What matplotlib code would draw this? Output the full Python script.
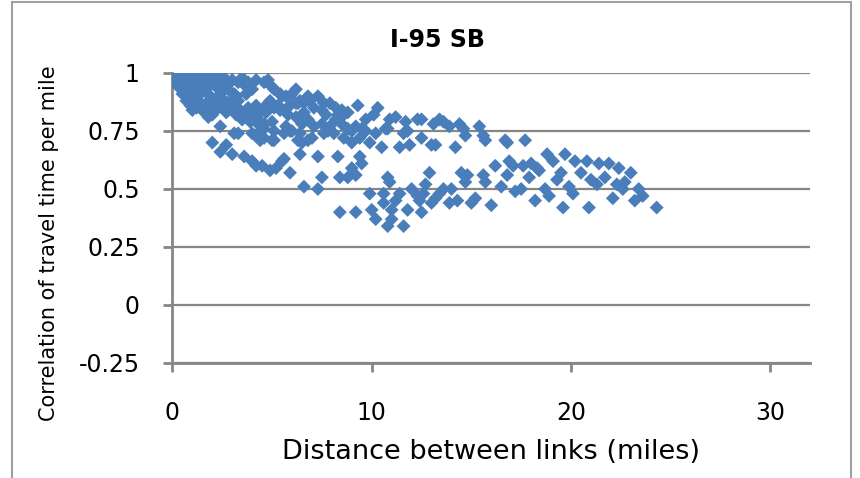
import matplotlib
matplotlib.use("Agg")
import matplotlib.pyplot as plt
from matplotlib.patches import Rectangle

# I-95 SB: correlation of travel time per mile vs distance between links
# values (approximate)

# dense group near the start
dist_start = [0.15, 0.2, 0.3, 0.35, 0.4, 0.5, 0.55, 0.6, 0.7, 0.75, 0.8, 0.9, 1.0, 1.0, 1.1,
              1.2, 1.2, 1.3, 1.4, 1.4, 1.5, 1.6, 1.7, 1.8, 1.9, 2.0, 2.1, 2.2, 2.3, 2.4,
              2.5, 2.6, 2.8, 2.9, 3.0, 0.5, 0.7, 0.8, 0.9, 1.0, 1.1, 1.2, 1.3, 1.5, 1.6,
              1.7, 1.8, 1.9, 2.0, 2.2, 2.3, 2.5, 2.6, 2.7, 2.9, 3.0, 3.1, 3.2, 3.3, 3.4,
              3.5, 3.6, 3.7, 3.8, 3.9, 4.0, 4.1, 4.2, 4.3, 4.5, 4.6, 4.4, 4.6]
corr_start = [0.96, 0.99, 0.94, 1.0, 0.97, 0.99, 0.95, 1.0, 0.97, 0.93, 0.99, 0.96, 0.99, 0.92, 0.97,
              1.0, 0.94, 0.97, 0.91, 0.99, 0.95, 0.98, 0.93, 0.96, 0.90, 1.0, 0.97, 0.94, 0.99, 0.96,
              0.92, 0.98, 0.95, 0.92, 0.97, 0.91, 0.88, 0.90, 0.86, 0.84, 0.88, 0.85, 0.88, 0.86, 0.83,
              0.87, 0.81, 0.85, 0.82, 0.88, 0.85, 0.89, 0.86, 0.83, 0.88, 0.85, 0.91, 0.82, 0.88, 0.84,
              0.80, 0.82, 0.91, 0.85, 0.79, 0.83, 0.80, 0.86, 0.78, 0.84, 0.78, 0.75, 0.76]

# upper band
dist_upper = [3.3, 3.5, 3.6, 3.8, 4.0, 4.2, 4.6, 4.8, 5.0, 5.1, 5.4, 5.5, 5.7, 6.0, 6.2,
              6.4, 6.6, 2.4, 2.9, 3.2, 7.3, 7.6, 7.9, 8.2, 8.5, 8.8, 9.3, 10.3, 10.1, 9.7,
              10.9, 11.2, 11.7, 12.3, 12.5, 13.1, 13.4, 13.6, 13.9, 14.4, 14.6, 14.7, 15.4, 15.6, 15.7,
              16.7, 16.8, 17.7, 14.2, 13.2, 13.0, 12.5, 11.9, 11.4, 11.6, 11.8, 10.5, 9.9, 10.2, 10.7,
              10.8, 9.4, 9.0, 8.6, 8.1, 7.8, 7.6, 7.0, 6.8, 6.5, 6.4, 5.9, 5.7, 5.1, 5.1,
              4.6, 4.3, 4.0, 3.3, 2.4, 3.5, 3.8, 4.3, 4.7, 4.9, 5.1, 5.4, 5.8, 6.2, 6.5,
              6.8, 7.1, 7.5, 7.9, 8.2, 8.5, 8.8, 9.0, 9.2, 9.5, 9.7, 8.3, 8.6, 7.7, 7.5,
              7.1, 6.9, 6.8, 6.2, 5.9, 4.8, 5.3, 5.6, 6.3, 6.6, 4.5, 3.6, 3.7, 4.1, 4.6,
              5.0, 4.4, 5.0, 5.6, 6.0, 6.3, 3.1]
corr_upper = [0.96, 0.98, 0.95, 0.96, 0.93, 0.97, 0.96, 0.97, 0.94, 0.93, 0.91, 0.90, 0.90, 0.91, 0.93,
              0.88, 0.87, 0.91, 0.88, 0.90, 0.90, 0.87, 0.87, 0.85, 0.84, 0.83, 0.86, 0.85, 0.82, 0.80,
              0.80, 0.81, 0.79, 0.80, 0.80, 0.78, 0.80, 0.79, 0.77, 0.78, 0.76, 0.73, 0.77, 0.73, 0.71,
              0.71, 0.70, 0.71, 0.68, 0.69, 0.69, 0.72, 0.69, 0.68, 0.74, 0.75, 0.68, 0.70, 0.74, 0.76,
              0.76, 0.72, 0.70, 0.72, 0.74, 0.75, 0.74, 0.72, 0.71, 0.70, 0.74, 0.75, 0.77, 0.75, 0.71,
              0.72, 0.72, 0.74, 0.74, 0.77, 0.80, 0.81, 0.80, 0.83, 0.88, 0.85, 0.84, 0.82, 0.81, 0.78,
              0.80, 0.77, 0.78, 0.77, 0.80, 0.78, 0.76, 0.75, 0.77, 0.76, 0.75, 0.82, 0.82, 0.82, 0.84,
              0.85, 0.88, 0.90, 0.87, 0.86, 0.87, 0.86, 0.84, 0.87, 0.83, 0.84, 0.82, 0.91, 0.80, 0.78,
              0.79, 0.71, 0.71, 0.74, 0.75, 0.71, 0.74]

# lower band
dist_lower = [2.0, 2.4, 2.7, 3.0, 3.6, 4.2, 4.9, 5.2, 5.6, 5.9, 6.4, 6.6, 7.3, 7.3, 7.5,
              8.3, 8.4, 8.4, 8.8, 9.0, 9.2, 9.2, 9.4, 9.5, 9.9, 10.0, 10.2, 10.6, 10.6, 10.8,
              10.9, 10.8, 11.0, 11.0, 11.2, 11.4, 11.6, 11.8, 12.0, 12.3, 12.4, 12.5, 12.6, 12.7, 12.9,
              13.0, 13.2, 13.4, 13.6, 13.9, 14.0, 14.3, 14.5, 14.7, 14.8, 15.0, 15.2, 15.6, 15.7, 16.0,
              16.2, 16.5, 16.8, 16.9, 17.1, 17.2, 17.5, 17.6, 17.9, 18.0, 18.2, 18.3, 18.4, 18.7, 18.8,
              18.9, 19.1, 19.3, 19.5, 19.6, 19.7, 19.9, 20.1, 20.2, 20.5, 20.8, 20.9, 21.0, 21.3, 21.4,
              21.7, 21.9, 22.1, 22.3, 22.4, 22.6, 22.7, 23.0, 23.2, 23.4, 23.6, 24.3, 4.0, 4.5, 5.5]
corr_lower = [0.70, 0.66, 0.69, 0.65, 0.64, 0.60, 0.58, 0.59, 0.63, 0.57, 0.65, 0.51, 0.50, 0.64, 0.55,
              0.64, 0.55, 0.40, 0.55, 0.59, 0.56, 0.40, 0.64, 0.61, 0.48, 0.41, 0.37, 0.48, 0.44, 0.55,
              0.53, 0.34, 0.37, 0.41, 0.45, 0.48, 0.34, 0.41, 0.50, 0.47, 0.45, 0.40, 0.48, 0.52, 0.57,
              0.44, 0.46, 0.48, 0.50, 0.44, 0.50, 0.45, 0.57, 0.53, 0.56, 0.44, 0.46, 0.56, 0.53, 0.43,
              0.60, 0.51, 0.56, 0.62, 0.60, 0.49, 0.50, 0.60, 0.55, 0.61, 0.45, 0.59, 0.58, 0.50, 0.65,
              0.47, 0.62, 0.54, 0.57, 0.42, 0.65, 0.51, 0.48, 0.62, 0.57, 0.62, 0.42, 0.54, 0.52, 0.61,
              0.55, 0.61, 0.46, 0.52, 0.59, 0.50, 0.53, 0.57, 0.45, 0.50, 0.47, 0.42, 0.62, 0.60, 0.62]

x_ticks = [0, 10, 20, 30]
y_ticks = [-0.25, 0, 0.25, 0.5, 0.75, 1]
y_tick_labels = ['-0.25', '0', '0.25', '0.5', '0.75', '1']

plt.rcParams['font.family'] = ['DejaVu Sans']

fig = plt.figure(figsize=(8.6, 4.78), dpi=100)
ax = fig.add_axes([0.2005, 0.2406, 0.7415, 0.6067])

grid_col = '#868686'
dot_col = '#4a7ebb'

for d, c in [(dist_start, corr_start), (dist_upper, corr_upper), (dist_lower, corr_lower)]:
    ax.scatter(d, c, marker='D', s=50, color=dot_col, edgecolors='none', zorder=3)

ax.set_xlim(0, 32)
ax.set_ylim(-0.25, 1)
ax.set_xticks(x_ticks)
ax.set_yticks(y_ticks)
ax.set_yticklabels(y_tick_labels)
ax.yaxis.grid(True, color=grid_col, lw=1.6)
ax.set_axisbelow(True)

for side in ['top', 'right']:
    ax.spines[side].set_visible(False)
for side in ['left', 'bottom']:
    ax.spines[side].set_color(grid_col)
    ax.spines[side].set_linewidth(2)

ax.tick_params(axis='both', colors=grid_col, width=2, length=6.5, labelcolor='black',
               labelsize=17, direction='out')
ax.tick_params(axis='x', pad=21)
ax.tick_params(axis='y', pad=17)

ax.set_xlabel('Distance between links (miles)', fontsize=19.5, labelpad=10)
ax.set_ylabel('Correlation of travel time per mile', fontsize=15)
ax.yaxis.set_label_coords(-0.178, 0.414)
fig.text(0.509, 0.916, 'I-95 SB', ha='center', va='center', fontsize=17, fontweight='bold')

# outer chart border
fig.patches.append(Rectangle((0.014, -0.2), 0.976, 1.195, transform=fig.transFigure,
                             fill=False, edgecolor='#a0a0a0', lw=1.5))

fig.savefig('out.png', dpi=100)
